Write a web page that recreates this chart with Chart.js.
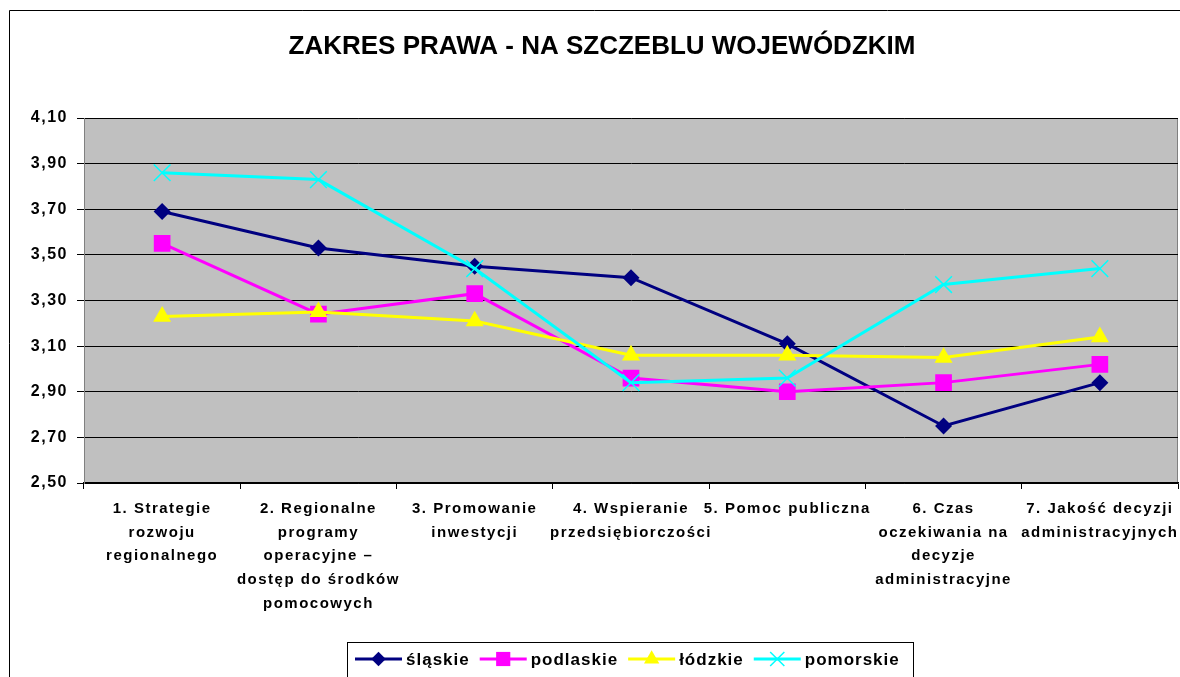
<!DOCTYPE html>
<html>
<head>
<meta charset="utf-8">
<script src="https://cdn.jsdelivr.net/npm/chart.js@4.4.0/dist/chart.umd.min.js"></script>
<style>
body { margin: 0; background: #fff; }
#chart { position: absolute; left: 0; top: 0; }
</style>
</head>
<body>
<canvas id="chart" width="1180" height="677"></canvas>
<script>
// values
const categories = [
	["1. Strategie", "rozwoju", "regionalnego"],
	["2. Regionalne", "programy", "operacyjne –", "dostęp do środków", "pomocowych"],
	["3. Promowanie", "inwestycji"],
	["4. Wspieranie", "przedsiębiorczości"],
	["5. Pomoc publiczna"],
	["6. Czas", "oczekiwania na", "decyzje", "administracyjne"],
	["7. Jakość decyzji", "administracyjnych"],
];
const slaskie = [3.69, 3.53, 3.45, 3.40, 3.11, 2.75, 2.94];
const podlaskie = [3.55, 3.24, 3.33, 2.96, 2.90, 2.94, 3.02];
const lodzkie = [3.23, 3.25, 3.21, 3.06, 3.06, 3.05, 3.14];
const pomorskie = [3.86, 3.83, 3.44, 2.94, 2.96, 3.37, 3.44];
const seriesNames = ["śląskie", "podlaskie", "łódzkie", "pomorskie"];
const yMin = 2.5;
const yMax = 4.1;
const yStep = 0.2;
const title = "ZAKRES PRAWA - NA SZCZEBLU WOJEWÓDZKIM";

const FONT = "'Liberation Sans', Arial, sans-serif";

function markerPath(ctx, style, r, x, y) {
	ctx.beginPath();
	if (style === "rectRot") {
		ctx.moveTo(x, y - r); ctx.lineTo(x + r, y); ctx.lineTo(x, y + r); ctx.lineTo(x - r, y);
		ctx.closePath();
	} else if (style === "rect") {
		const s = r * Math.SQRT1_2;
		ctx.rect(x - s, y - s, 2 * s, 2 * s);
	} else if (style === "triangle") {
		ctx.moveTo(x, y - r);
		ctx.lineTo(x + r * 0.866, y + r * 0.5);
		ctx.lineTo(x - r * 0.866, y + r * 0.5);
		ctx.closePath();
	} else if (style === "crossRot") {
		const s = r * Math.SQRT1_2;
		ctx.moveTo(x - s, y - s); ctx.lineTo(x + s, y + s);
		ctx.moveTo(x + s, y - s); ctx.lineTo(x - s, y + s);
	}
}

const decor = {
	id: "decor",
	beforeUpdate(chart) { chart.ctx.letterSpacing = "1.5px"; },
	beforeDraw(chart) {
		const ctx = chart.ctx;
		const a = chart.chartArea;
		ctx.save();
		ctx.fillStyle = "#fff";
		ctx.fillRect(0, 0, chart.width, chart.height);
		// outer frame (top and left visible)
		ctx.strokeStyle = "#000";
		ctx.lineWidth = 1;
		ctx.beginPath();
		ctx.moveTo(9.5, chart.height); ctx.lineTo(9.5, 10.5); ctx.lineTo(chart.width, 10.5);
		ctx.stroke();
		ctx.fillStyle = "#c0c0c0";
		ctx.fillRect(a.left, a.top, a.right - a.left, a.bottom - a.top);
		ctx.strokeStyle = "#808080";
		ctx.strokeRect(a.left + 0.5, a.top + 0.5, a.right - a.left - 1, a.bottom - a.top);
		ctx.restore();
		ctx.letterSpacing = "1.5px";
	},
	afterDraw(chart) {
		const ctx = chart.ctx;
		ctx.save();
		ctx.letterSpacing = "0px";
		ctx.fillStyle = "#000";
		ctx.font = "bold 26px " + FONT;
		ctx.textAlign = "center";
		ctx.textBaseline = "middle";
		ctx.fillText(title, 602, 47);

		// legend
		const top = 642.5;
		ctx.strokeStyle = "#000";
		ctx.lineWidth = 1;
		ctx.strokeRect(347.5, top, 566, 60);
		ctx.font = "bold 17px " + FONT;
		ctx.letterSpacing = "1px";
		ctx.textAlign = "left";
		let x = 355;
		const cy = 659;
		chart.data.datasets.forEach((ds) => {
			ctx.strokeStyle = ds.borderColor;
			ctx.lineWidth = 3;
			ctx.beginPath();
			ctx.moveTo(x, cy); ctx.lineTo(x + 47, cy);
			ctx.stroke();
			markerPath(ctx, ds.pointStyle, ds.pointRadius * 0.85, x + 23.5, cy);
			if (ds.pointStyle === "crossRot") {
				ctx.lineWidth = 1.5;
				ctx.stroke();
			} else {
				ctx.fillStyle = ds.pointBackgroundColor;
				ctx.fill();
			}
			ctx.fillStyle = "#000";
			ctx.fillText(ds.label, x + 51, cy + 1);
			x += 51 + ctx.measureText(ds.label).width + 10;
		});
		ctx.restore();
	},
};

const series = [slaskie, podlaskie, lodzkie, pomorskie];
const colors = ["#000080", "#ff00ff", "#ffff00", "#00ffff"];
const styles = ["rectRot", "rect", "triangle", "crossRot"];
const radii = [8.5, 11.8, 10.4, 11.8];

const ctx = document.getElementById("chart").getContext("2d");
const myChart = new Chart(ctx, {
	type: "line",
	data: {
		labels: categories,
		datasets: series.map((values, i) => ({
			label: seriesNames[i],
			data: values,
			borderColor: colors[i],
			backgroundColor: colors[i],
			pointBackgroundColor: colors[i],
			pointBorderColor: colors[i],
			pointBorderWidth: styles[i] === "crossRot" ? 1.5 : 0,
			pointStyle: styles[i],
			pointRadius: radii[i],
			pointHoverRadius: radii[i],
			borderWidth: 3,
			tension: 0,
			fill: false,
			order: 4 - i,
		})),
	},
	options: {
		responsive: false,
		animation: false,
		layout: { autoPadding: false, padding: { left: 0, right: 2, top: 118, bottom: 0 } },
		plugins: {
			legend: { display: false },
			title: { display: false },
			tooltip: { enabled: false },
		},
		scales: {
			x: {
				offset: true,
				afterFit: (scale) => {
					scale.height = 194;
					scale.paddingLeft = 0;
					scale.paddingRight = 0;
				},
				grid: { drawOnChartArea: false, drawTicks: true, tickLength: 6, color: "#000", offset: true },
				border: { color: "#000", width: 1.5 },
				ticks: {
					autoSkip: false,
					maxRotation: 0,
					padding: 8,
					color: "#000",
					font: { family: FONT, size: 15, weight: "bold", lineHeight: 1.58 },
				},
			},
			y: {
				min: yMin,
				max: yMax,
				afterFit: (scale) => { scale.width = 84; },
				grid: { color: "#000", lineWidth: 1, tickLength: 7 },
				border: { color: "#808080", width: 1 },
				ticks: {
					stepSize: yStep,
					padding: 9,
					color: "#000",
					font: { family: FONT, size: 16, weight: "bold" },
					callback: (v) => v.toFixed(2).replace(".", ","),
				},
			},
		},
	},
	plugins: [decor],
});
</script>
</body>
</html>
